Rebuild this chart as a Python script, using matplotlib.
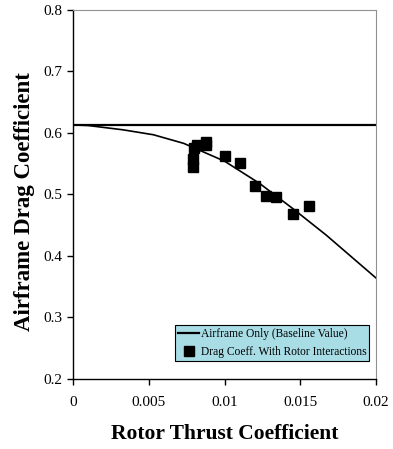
import matplotlib
matplotlib.use("Agg")
import matplotlib.pyplot as plt
from matplotlib.lines import Line2D

plt.rcParams['font.family'] = ['Liberation Serif', 'DejaVu Serif']

# Baseline (airframe only)
baseline_value = 0.613

# Fitted trend curve
curve_x = [0.0, 0.001, 0.0033, 0.0053, 0.0073, 0.0100, 0.0123, 0.0145, 0.0167, 0.0200]
curve_y = [0.613, 0.612, 0.605, 0.597, 0.583, 0.554, 0.518, 0.477, 0.434, 0.364]

# Drag coefficient with rotor interactions
thrust = [0.0079, 0.0079, 0.0080, 0.0082, 0.0088, 0.0088, 0.0100, 0.0110,
          0.0120, 0.0127, 0.0134, 0.0145, 0.0156]
drag = [0.545, 0.557, 0.575, 0.580, 0.586, 0.580, 0.563, 0.551,
        0.513, 0.497, 0.496, 0.468, 0.481]

xticks = [0, 0.005, 0.01, 0.015, 0.02]
xticklabels = ['0', '0.005', '0.01', '0.015', '0.02']
yticks = [0.2, 0.3, 0.4, 0.5, 0.6, 0.7, 0.8]
yticklabels = ['0.2', '0.3', '0.4', '0.5', '0.6', '0.7', '0.8']

fig = plt.figure(figsize=(3.93, 4.49), dpi=100)
ax = fig.add_axes([0.186, 0.156, 0.771, 0.822])

ax.axhline(baseline_value, color='black', lw=1.6, zorder=2)
ax.plot(curve_x, curve_y, color='black', lw=1.2, zorder=2)
ax.plot(thrust, drag, linestyle='none', marker='s', markersize=7.8,
        color='black', zorder=3)

ax.set_xlim(0, 0.02)
ax.set_ylim(0.2, 0.8)
ax.set_xticks(xticks)
ax.set_xticklabels(xticklabels)
ax.set_yticks(yticks)
ax.set_yticklabels(yticklabels)
ax.tick_params(direction='out', length=4, width=1, labelsize=11, colors='black')
ax.tick_params(axis='x', pad=8)

for side in ['top', 'right']:
    ax.spines[side].set_color('#909090')
    ax.spines[side].set_linewidth(0.8)
for side in ['left', 'bottom']:
    ax.spines[side].set_color('black')
    ax.spines[side].set_linewidth(1.0)

ax.set_xlabel('Rotor Thrust Coefficient', fontsize=15.5, fontweight='bold')
ax.set_ylabel('Airframe Drag Coefficient', fontsize=16.5, fontweight='bold')
ax.xaxis.set_label_coords(0.5, -0.122)
ax.yaxis.set_label_coords(-0.125, 0.48)

handles = [Line2D([0], [0], color='black', lw=1.6),
           Line2D([0], [0], linestyle='none', marker='s', markersize=6.5, color='black')]
labels = ['Airframe Only (Baseline Value)', 'Drag Coeff. With Rotor Interactions']
leg = ax.legend(handles, labels, loc='lower right', bbox_to_anchor=(0.977, 0.049),
                fontsize=8.3, frameon=True, fancybox=False, handlelength=1.8,
                handletextpad=0.15, borderpad=0.25, labelspacing=0.5,
                borderaxespad=0)
leg.get_frame().set_facecolor('#a8dde6')
leg.get_frame().set_edgecolor('black')
leg.get_frame().set_linewidth(0.8)
leg.get_frame().set_alpha(1)

fig.savefig('out.png', dpi=100)
